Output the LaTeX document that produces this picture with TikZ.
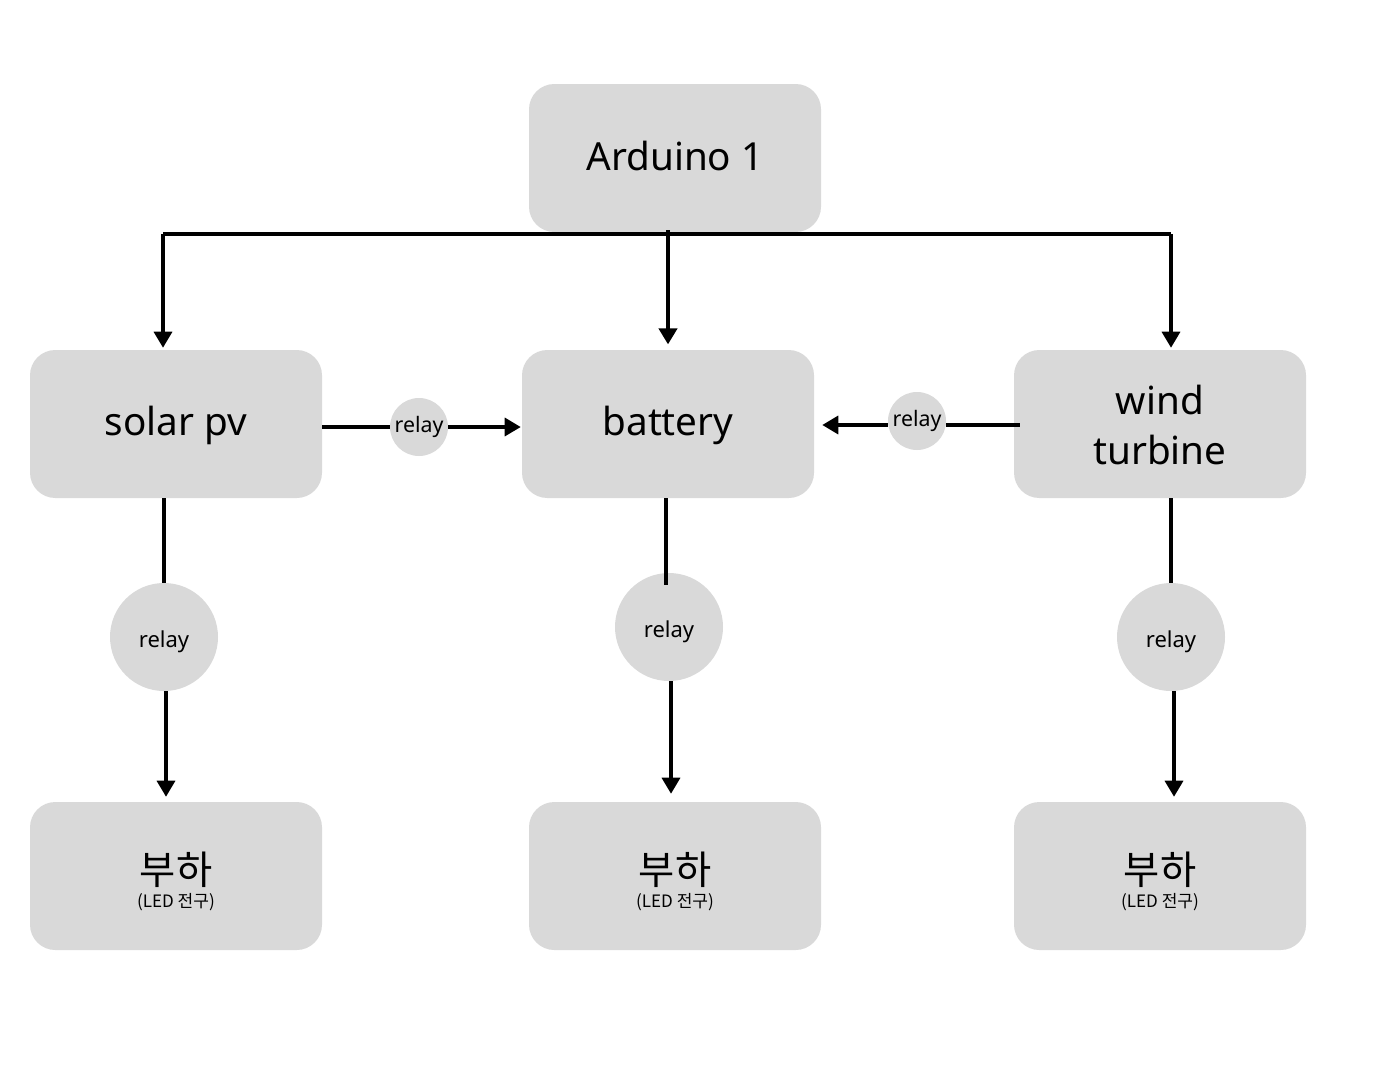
\documentclass[tikz,border=0pt]{standalone}
\usepackage{fontspec}
\setmainfont{Noto Sans}
\newfontfamily\krfont{Noto Sans CJK KR}
\usetikzlibrary{arrows.meta}
\definecolor{boxgray}{HTML}{D9D9D9}
\begin{document}
\begin{tikzpicture}[x=0.75pt,y=-0.75pt,
  box/.style={fill=boxgray, rounded corners=19pt, minimum width=219pt, minimum height=111pt, inner sep=0pt, align=center, font=\fontsize{29}{37.5}\selectfont},
  rsmall/.style={circle, fill=boxgray, minimum size=43.5pt, inner sep=0pt, font=\fontsize{16}{18}\selectfont},
  rbig/.style={circle, fill=boxgray, minimum size=81pt, inner sep=0pt, font=\fontsize{16.5}{18}\selectfont},
  conn/.style={line width=2.5pt, -{Triangle[length=12pt,width=13.5pt]}},
  wire/.style={line width=2.5pt},
  bigkr/.style={font=\krfont\fontsize{29.5}{30}\selectfont, inner sep=0pt, anchor=base},
  smallkr/.style={font=\krfont\fontsize{12.8}{13}\selectfont, inner sep=0pt, anchor=base},
  rtext/.style={inner sep=0pt, anchor=base},
  btext/.style={inner sep=0pt, anchor=base, font=\fontsize{29}{37.5}\selectfont}]
\useasboundingbox (0,0) rectangle (1398,1082);
\fill[white] (0,0) rectangle (1398,1082);

% boxes
\node[box] (ard) at (675,158) {};
\node[box] (solar) at (176,424) {};
\node[box] (bat) at (668,424) {};
\node[box] (wind) at (1160,424) {};
\node[box] (load1) at (176,876) {};
\node[box] (load2) at (675,876) {};
\node[box] (load3) at (1160,876) {};

\node[btext] (ta) at (675,170) {Arduino 1};
\node[btext] (ts) at (176,435) {solar pv};
\node[btext] (tb) at (668,435) {battery};
\node[btext] (tw1) at (1160,414) {wind};
\node[btext] (tw2) at (1160,464) {turbine};

\node[bigkr] (l1a) at (176,884) {부하};
\node[smallkr] (l1b) at (176,907) {(LED 전구)};
\node[bigkr] (l2a) at (675,884) {부하};
\node[smallkr] (l2b) at (675,907) {(LED 전구)};
\node[bigkr] (l3a) at (1160,884) {부하};
\node[smallkr] (l3b) at (1160,907) {(LED 전구)};

% relays
\node[rsmall] (r1) at (419,427) {relay};
\node[rsmall] (r2) at (917,421) {relay};
\node[rbig] (r3) at (164,637) {};
\node[rbig] (r4) at (669,627) {};
\node[rbig] (r5) at (1171,637) {};
\node[rtext, font=\fontsize{16.5}{18}\selectfont] (t3) at (164,647) {relay};
\node[rtext, font=\fontsize{16.5}{18}\selectfont] (t4) at (669,637) {relay};
\node[rtext, font=\fontsize{16.5}{18}\selectfont] (t5) at (1171,647) {relay};

% bus from Arduino
\coordinate (busL) at (163,234);
\coordinate (busR) at (1171,234);
\draw[wire] (busL) -- (busR);
\draw[conn] (busL) -- ([yshift=1.5pt]busL |- solar.north);
\draw[conn] (busR) -- ([yshift=1.5pt]busR |- wind.north);
\draw[conn, line width=3pt] ([xshift=-5.25pt,yshift=1.5pt]ard.south) -- ([xshift=-5.25pt,yshift=4pt]ard.south |- bat.north);

% horizontal relays
\draw[wire] (r1.west -| solar.east) -- (r1.west);
\draw[conn] (r1.east) -- ([xshift=-0.75pt]r1.east -| bat.west);
\coordinate (w2) at ([xshift=4.5pt]wind.west |- 0,425);
\draw[wire] (w2) -- (w2 -| r2.east);
\draw[conn] (w2 -| r2.west) -- ([xshift=6pt]w2 -| bat.east);

% vertical relays
\draw[wire] (solar.south -| r3.north) -- (r3.north);
\draw[conn] ([xshift=1.5pt]r3.south) -- ([xshift=1.5pt,yshift=3.75pt]r3.south |- load1.north);
\draw[wire] ([xshift=-2.25pt]bat.south -| r4.north) -- ([xshift=-2.25pt,yshift=-9pt]r4.north);
\draw[conn] ([xshift=1.5pt]r4.south) -- ([xshift=1.5pt,yshift=6pt]r4.south |- load2.north);
\draw[wire] (wind.south -| r5.north) -- (r5.north);
\draw[conn] ([xshift=2.25pt]r5.south) -- ([xshift=2.25pt,yshift=3.75pt]r5.south |- load3.north);
\end{tikzpicture}
\end{document}
